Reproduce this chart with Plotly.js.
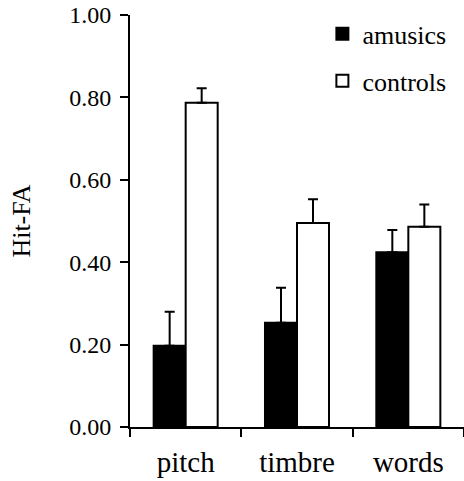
<!DOCTYPE html>
<html>
<head>
<meta charset="utf-8">
<script src="https://cdn.plot.ly/plotly-3.0.1.min.js"></script>
<style>html,body{margin:0;padding:0;background:#fff;}#chart{width:464px;height:481px;}</style>
</head>
<body>
<div id="chart"></div>
<script>
const categories = ["pitch", "timbre", "words"];
const amusics = [0.197, 0.253, 0.424];
const amusicsErr = [0.083, 0.085, 0.054];
const controls = [0.787, 0.495, 0.486];
const controlsErr = [0.035, 0.058, 0.054];
const yTicks = [0, 0.2, 0.4, 0.6, 0.8, 1.0];

const serif = "Liberation Serif";

const traces = [
  {
    type: "bar", name: "amusics", x: categories, y: amusics,
    legendgroup: "a",
    marker: {color: "#000", line: {color: "#000", width: 2}},
    error_y: {type: "data", array: amusicsErr, symmetric: false, arrayminus: [0,0,0], color: "#000", thickness: 2, width: 5}
  },
  {
    type: "bar", name: "controls", x: categories, y: controls,
    legendgroup: "c",
    marker: {color: "#fff", line: {color: "#000", width: 2}},
    error_y: {type: "data", array: controlsErr, symmetric: false, arrayminus: [0,0,0], color: "#000", thickness: 2, width: 5}
  }
];

const layout = {
  width: 464, height: 481,
  margin: {l: 130, r: 0, t: 15, b: 54},
  paper_bgcolor: "#fff", plot_bgcolor: "#fff",
  barmode: "group", bargap: 0.425, bargroupgap: 0,
  font: {family: serif, color: "#000", size: 24},
  showlegend: true,
  legend: {
    x: 0.576, y: 1.011, xanchor: "left", yanchor: "top",
    font: {family: serif, size: 26, color: "#000"},
    traceorder: "grouped", tracegroupgap: 10,
    bgcolor: "rgba(0,0,0,0)", itemwidth: 30
  },
  xaxis: {
    type: "category",
    showline: true, linecolor: "#000", linewidth: 2,
    ticks: "outside", tickson: "boundaries", ticklen: 8, tickwidth: 2, tickcolor: "#000",
    tickfont: {family: serif, size: 29, color: "#000"},
    ticklabelstandoff: 8,
    showgrid: false, zeroline: false, fixedrange: true
  },
  yaxis: {
    range: [0, 1], tickvals: yTicks, tickformat: ".2f",
    showline: true, linecolor: "#000", linewidth: 2,
    ticks: "outside", ticklen: 8, tickwidth: 2, tickcolor: "#000",
    tickfont: {family: serif, size: 24, color: "#000"},
    ticklabelstandoff: 4,
    showgrid: false, zeroline: false,
    title: {text: "Hit-FA", font: {family: serif, size: 26, color: "#000"}, standoff: 31}
  }
};

Plotly.newPlot("chart", traces, layout, {displayModeBar: false, staticPlot: true});
</script>
</body>
</html>
